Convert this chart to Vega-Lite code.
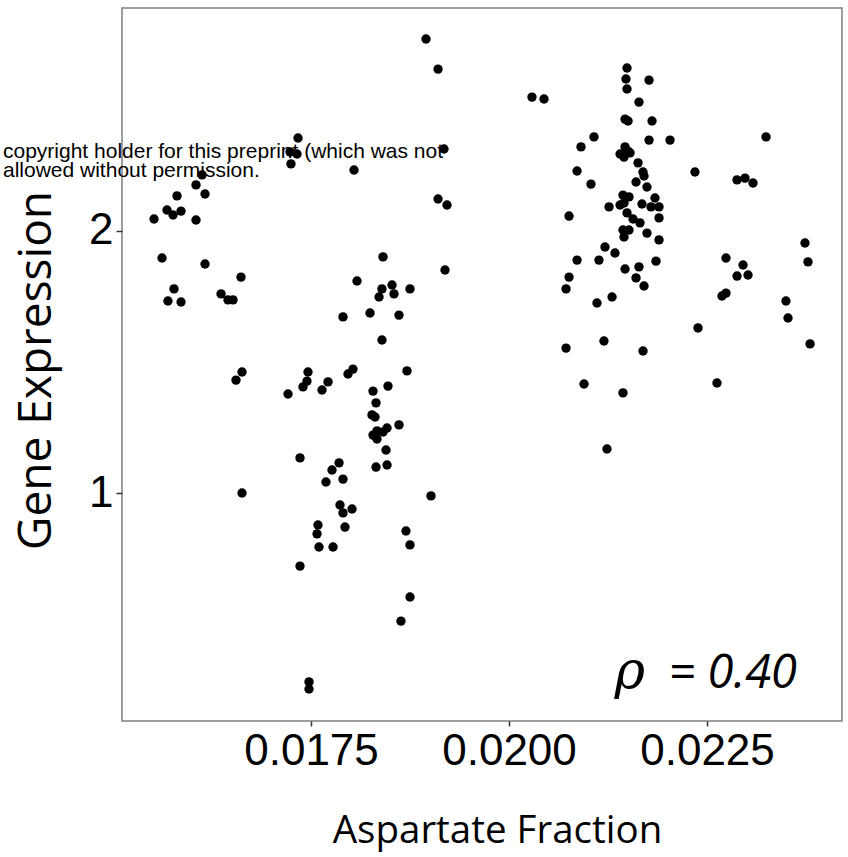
{
  "$schema": "https://vega.github.io/schema/vega-lite/v6.json",
  "width": 720,
  "height": 713,
  "autosize": "none",
  "padding": {"left": 122, "top": 8, "right": 6, "bottom": 136},
  "background": "white",
  "config": {
    "view": {"stroke": "#7f7f7f", "strokeWidth": 1.5},
    "axis": {
      "domain": false,
      "grid": false,
      "tickColor": "#333333",
      "tickWidth": 1.5,
      "labelColor": "black",
      "labelFont": "Liberation Sans",
      "labelFontSize": 44,
      "titleColor": "black",
      "titleFont": "Open Sans",
      "titleFontWeight": "normal",
      "labelFlush": false,
      "labelOverlap": false
    }
  },
  "layer": [
    {
      "data": {"values": [{}]},
      "mark": {"type": "text", "align": "left", "baseline": "alphabetic", "font": "Liberation Sans", "fontSize": 21, "fontWeight": "normal", "lineHeight": 19, "color": "black", "clip": false},
      "encoding": {
        "x": {"datum": 0.013611, "type": "quantitative", "scale": {"domain": [0.0151136, 0.0242045], "nice": false, "zero": false}},
        "y": {"datum": 2.279, "type": "quantitative", "scale": {"domain": [0.1298, 2.8511], "nice": false, "zero": false}},
        "text": {"value": ["copyright holder for this preprint (which was not", "allowed without permission."]}
      }
    },
    {
      "data": {
        "values": [
          {"asp": 0.018952, "expr": 2.733}, {"asp": 0.019104, "expr": 2.618}, {"asp": 0.017336, "expr": 2.355},
          {"asp": 0.017235, "expr": 2.302}, {"asp": 0.017323, "expr": 2.294}, {"asp": 0.017247, "expr": 2.256},
          {"asp": 0.019179, "expr": 2.313}, {"asp": 0.018043, "expr": 2.233}, {"asp": 0.016124, "expr": 2.214},
          {"asp": 0.016048, "expr": 2.176}, {"asp": 0.016162, "expr": 2.141}, {"asp": 0.015808, "expr": 2.134},
          {"asp": 0.015682, "expr": 2.080}, {"asp": 0.015758, "expr": 2.061}, {"asp": 0.015859, "expr": 2.076},
          {"asp": 0.015518, "expr": 2.046}, {"asp": 0.016048, "expr": 2.042}, {"asp": 0.019104, "expr": 2.122},
          {"asp": 0.019217, "expr": 2.099}, {"asp": 0.015619, "expr": 1.897}, {"asp": 0.016162, "expr": 1.874},
          {"asp": 0.015770, "expr": 1.779}, {"asp": 0.015694, "expr": 1.733}, {"asp": 0.015859, "expr": 1.729},
          {"asp": 0.016364, "expr": 1.760}, {"asp": 0.016452, "expr": 1.737}, {"asp": 0.016515, "expr": 1.737},
          {"asp": 0.016616, "expr": 1.824}, {"asp": 0.019192, "expr": 1.851}, {"asp": 0.018409, "expr": 1.901},
          {"asp": 0.018081, "expr": 1.809}, {"asp": 0.018396, "expr": 1.779}, {"asp": 0.018523, "expr": 1.794},
          {"asp": 0.018359, "expr": 1.748}, {"asp": 0.018548, "expr": 1.760}, {"asp": 0.018750, "expr": 1.779},
          {"asp": 0.017904, "expr": 1.672}, {"asp": 0.018245, "expr": 1.687}, {"asp": 0.018611, "expr": 1.679},
          {"asp": 0.018396, "expr": 1.584},
          {"asp": 0.016629, "expr": 1.462}, {"asp": 0.016553, "expr": 1.431}, {"asp": 0.017462, "expr": 1.462},
          {"asp": 0.017449, "expr": 1.427}, {"asp": 0.017399, "expr": 1.405}, {"asp": 0.017210, "expr": 1.378},
          {"asp": 0.017715, "expr": 1.424}, {"asp": 0.017639, "expr": 1.393}, {"asp": 0.018030, "expr": 1.473},
          {"asp": 0.017967, "expr": 1.454}, {"asp": 0.018712, "expr": 1.466}, {"asp": 0.018283, "expr": 1.389},
          {"asp": 0.018472, "expr": 1.408}, {"asp": 0.018321, "expr": 1.344}, {"asp": 0.018270, "expr": 1.298},
          {"asp": 0.018308, "expr": 1.290}, {"asp": 0.018611, "expr": 1.260}, {"asp": 0.018460, "expr": 1.248},
          {"asp": 0.018409, "expr": 1.233}, {"asp": 0.018333, "expr": 1.237}, {"asp": 0.018283, "expr": 1.221},
          {"asp": 0.018333, "expr": 1.206}, {"asp": 0.018447, "expr": 1.164}, {"asp": 0.018321, "expr": 1.099},
          {"asp": 0.018460, "expr": 1.107}, {"asp": 0.017361, "expr": 1.134}, {"asp": 0.017854, "expr": 1.115},
          {"asp": 0.017765, "expr": 1.088}, {"asp": 0.017689, "expr": 1.042}, {"asp": 0.017904, "expr": 1.053},
          {"asp": 0.016629, "expr": 1.000}, {"asp": 0.019015, "expr": 0.989}, {"asp": 0.017866, "expr": 0.954},
          {"asp": 0.018018, "expr": 0.939}, {"asp": 0.017904, "expr": 0.924}, {"asp": 0.017929, "expr": 0.870},
          {"asp": 0.017588, "expr": 0.878}, {"asp": 0.017576, "expr": 0.844}, {"asp": 0.017601, "expr": 0.794},
          {"asp": 0.017778, "expr": 0.794}, {"asp": 0.017361, "expr": 0.721}, {"asp": 0.018699, "expr": 0.855},
          {"asp": 0.018750, "expr": 0.802}, {"asp": 0.018750, "expr": 0.603}, {"asp": 0.018636, "expr": 0.511},
          {"asp": 0.017475, "expr": 0.279}, {"asp": 0.017475, "expr": 0.252},
          {"asp": 0.021490, "expr": 2.622}, {"asp": 0.021477, "expr": 2.580}, {"asp": 0.021490, "expr": 2.542},
          {"asp": 0.021768, "expr": 2.576}, {"asp": 0.020290, "expr": 2.511}, {"asp": 0.020442, "expr": 2.504},
          {"asp": 0.021641, "expr": 2.492}, {"asp": 0.021465, "expr": 2.427}, {"asp": 0.021503, "expr": 2.420},
          {"asp": 0.021806, "expr": 2.420}, {"asp": 0.021073, "expr": 2.359}, {"asp": 0.020909, "expr": 2.321},
          {"asp": 0.021768, "expr": 2.347}, {"asp": 0.022033, "expr": 2.347}, {"asp": 0.023245, "expr": 2.359},
          {"asp": 0.021465, "expr": 2.321}, {"asp": 0.021503, "expr": 2.305}, {"asp": 0.021402, "expr": 2.294},
          {"asp": 0.021452, "expr": 2.282}, {"asp": 0.021528, "expr": 2.298}, {"asp": 0.021629, "expr": 2.260},
          {"asp": 0.020859, "expr": 2.229}, {"asp": 0.021692, "expr": 2.225}, {"asp": 0.021705, "expr": 2.210},
          {"asp": 0.021604, "expr": 2.187}, {"asp": 0.022348, "expr": 2.225}, {"asp": 0.021035, "expr": 2.179},
          {"asp": 0.022879, "expr": 2.195}, {"asp": 0.022980, "expr": 2.202}, {"asp": 0.023081, "expr": 2.183},
          {"asp": 0.021742, "expr": 2.168}, {"asp": 0.021439, "expr": 2.137}, {"asp": 0.021515, "expr": 2.130},
          {"asp": 0.021402, "expr": 2.099}, {"asp": 0.021452, "expr": 2.107}, {"asp": 0.021843, "expr": 2.126},
          {"asp": 0.021679, "expr": 2.103}, {"asp": 0.021793, "expr": 2.092}, {"asp": 0.021894, "expr": 2.092},
          {"asp": 0.021263, "expr": 2.092}, {"asp": 0.021490, "expr": 2.069}, {"asp": 0.021566, "expr": 2.046},
          {"asp": 0.021654, "expr": 2.031}, {"asp": 0.021894, "expr": 2.050}, {"asp": 0.020758, "expr": 2.057},
          {"asp": 0.021439, "expr": 2.004}, {"asp": 0.021515, "expr": 2.004}, {"asp": 0.021452, "expr": 1.977},
          {"asp": 0.021742, "expr": 1.992}, {"asp": 0.021894, "expr": 1.966}, {"asp": 0.023737, "expr": 1.954},
          {"asp": 0.021212, "expr": 1.939}, {"asp": 0.021338, "expr": 1.916}, {"asp": 0.020859, "expr": 1.889},
          {"asp": 0.021136, "expr": 1.889}, {"asp": 0.021856, "expr": 1.885}, {"asp": 0.022740, "expr": 1.897},
          {"asp": 0.023775, "expr": 1.882}, {"asp": 0.021641, "expr": 1.863}, {"asp": 0.021465, "expr": 1.855},
          {"asp": 0.021604, "expr": 1.821}, {"asp": 0.021705, "expr": 1.790}, {"asp": 0.020758, "expr": 1.824},
          {"asp": 0.020720, "expr": 1.779}, {"asp": 0.022955, "expr": 1.870}, {"asp": 0.022879, "expr": 1.828},
          {"asp": 0.023018, "expr": 1.832}, {"asp": 0.021301, "expr": 1.748}, {"asp": 0.021111, "expr": 1.725},
          {"asp": 0.022689, "expr": 1.752}, {"asp": 0.022740, "expr": 1.763}, {"asp": 0.023497, "expr": 1.733},
          {"asp": 0.023523, "expr": 1.668}, {"asp": 0.022386, "expr": 1.630}, {"asp": 0.023801, "expr": 1.569},
          {"asp": 0.020720, "expr": 1.553}, {"asp": 0.021199, "expr": 1.580}, {"asp": 0.021692, "expr": 1.542},
          {"asp": 0.020947, "expr": 1.416}, {"asp": 0.021439, "expr": 1.382}, {"asp": 0.022626, "expr": 1.420},
          {"asp": 0.021237, "expr": 1.168}
        ]
      },
      "mark": {"type": "point", "filled": true, "color": "black", "opacity": 1, "size": 88},
      "encoding": {
        "x": {
          "field": "asp", "type": "quantitative",
          "scale": {"domain": [0.0151136, 0.0242045], "nice": false, "zero": false},
          "axis": {"title": "Aspartate Fraction", "values": [0.0175, 0.02, 0.0225], "format": ".4f", "tickSize": 5, "labelPadding": 3, "titleFontSize": 38.5, "titleX": 375, "titleY": 121, "titleBaseline": "alphabetic"}
        },
        "y": {
          "field": "expr", "type": "quantitative",
          "scale": {"domain": [0.1298, 2.8511], "nice": false, "zero": false},
          "axis": {"title": "Gene Expression", "values": [1, 2], "format": "d", "tickSize": 6, "labelPadding": 3, "titleFontSize": 46, "titleX": -72, "titleY": 362, "titleBaseline": "alphabetic"}
        }
      }
    },
    {
      "data": {"values": [{}]},
      "mark": {"type": "text", "align": "right", "baseline": "alphabetic", "font": "DejaVu Serif", "fontStyle": "italic", "fontSize": 52, "color": "black"},
      "encoding": {
        "x": {"datum": 0.021717, "type": "quantitative"},
        "y": {"datum": 0.2558, "type": "quantitative"},
        "text": {"value": "ρ"}
      }
    },
    {
      "data": {"values": [{}]},
      "mark": {"type": "text", "align": "right", "baseline": "alphabetic", "font": "Open Sans", "fontStyle": "italic", "fontSize": 47, "color": "black"},
      "encoding": {
        "x": {"datum": 0.023636, "type": "quantitative"},
        "y": {"datum": 0.2558, "type": "quantitative"},
        "text": {"value": "= 0.40"}
      }
    }
  ]
}
